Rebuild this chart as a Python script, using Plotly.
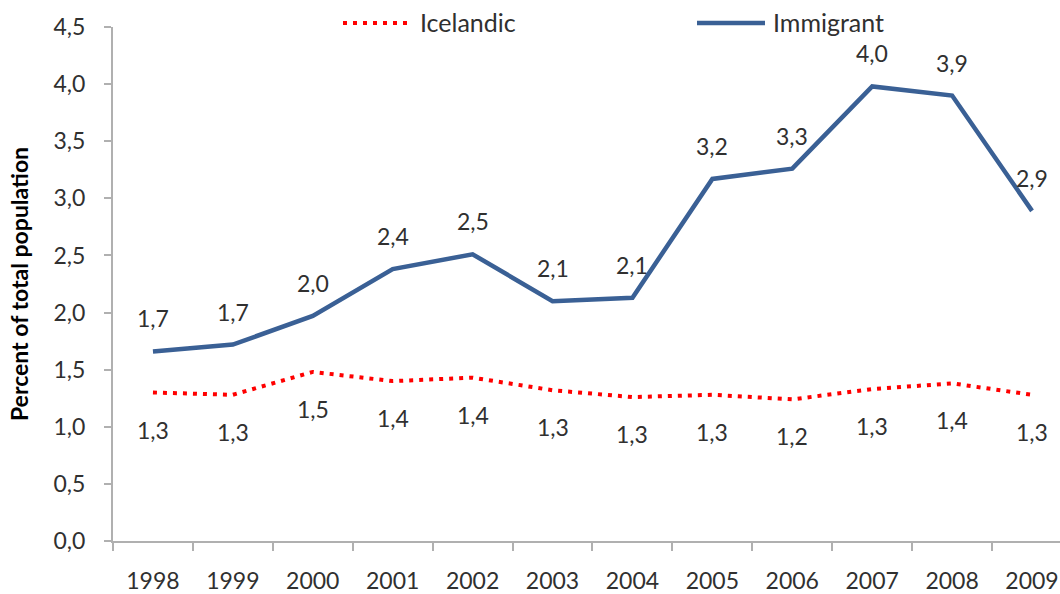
import plotly.graph_objects as go

years = ["1998", "1999", "2000", "2001", "2002", "2003", "2004", "2005", "2006", "2007", "2008", "2009"]
immigrant = [1.66, 1.72, 1.97, 2.38, 2.51, 2.10, 2.13, 3.17, 3.26, 3.98, 3.90, 2.89]
icelandic = [1.30, 1.28, 1.48, 1.40, 1.43, 1.32, 1.26, 1.28, 1.24, 1.33, 1.38, 1.28]
immigrant_labels = ["1,7", "1,7", "2,0", "2,4", "2,5", "2,1", "2,1", "3,2", "3,3", "4,0", "3,9", "2,9"]
icelandic_labels = ["1,3", "1,3", "1,5", "1,4", "1,4", "1,3", "1,3", "1,3", "1,2", "1,3", "1,4", "1,3"]
y_ticks = [0, 0.5, 1.0, 1.5, 2.0, 2.5, 3.0, 3.5, 4.0, 4.5]

BLUE = "#3A6095"
RED = "#FF0000"
TXT = "#303030"
AXC = "#B0B0B0"
FONT = "Lato, 'Open Sans', sans-serif"

fig = go.Figure()
fig.add_trace(go.Scatter(x=years, y=icelandic, mode="lines", name="Icelandic",
                         line=dict(color=RED, width=4, dash="4px,6px"), showlegend=False))
fig.add_trace(go.Scatter(x=years, y=immigrant, mode="lines", name="Immigrant",
                         line=dict(color=BLUE, width=4.5), showlegend=False))

for i, (y, t) in enumerate(zip(immigrant, immigrant_labels)):
    fig.add_annotation(x=i, y=y, xref="x", yref="y", text=t, showarrow=False, yshift=33,
                       font=dict(family=FONT, size=23, color=TXT))
for i, (y, t) in enumerate(zip(icelandic, icelandic_labels)):
    fig.add_annotation(x=i, y=y, xref="x", yref="y", text=t, showarrow=False, yshift=-37,
                       font=dict(family=FONT, size=23, color=TXT))

# custom legend (pixel helpers)
L, W, T, H = 113, 947, 27, 514
def px(xp):
    return (xp - L) / W
def py(yp):
    return (T + H - yp) / H
fig.add_shape(type="line", xref="paper", yref="paper", x0=px(343), x1=px(409), y0=py(23), y1=py(23),
              line=dict(color=RED, width=4, dash="4px,6px"))
fig.add_annotation(xref="paper", yref="paper", x=px(418), y=py(22), text="Icelandic", showarrow=False,
                   xanchor="left", yanchor="middle", font=dict(family=FONT, size=25, color=TXT))
fig.add_shape(type="line", xref="paper", yref="paper", x0=px(697), x1=px(765), y0=py(23), y1=py(23),
              line=dict(color=BLUE, width=4.5))
fig.add_annotation(xref="paper", yref="paper", x=px(771), y=py(22), text="Immigrant", showarrow=False,
                   xanchor="left", yanchor="middle", font=dict(family=FONT, size=25, color=TXT))

fig.update_layout(
    width=1060, height=594,
    margin=dict(l=113, r=0, t=27, b=53),
    plot_bgcolor="white", paper_bgcolor="white",
    separators=",.",
    font=dict(family=FONT, size=23, color=TXT),
)
fig.update_xaxes(type="category", range=[-0.5, 11.35], showline=True, linecolor=AXC, linewidth=2,
                 ticks="outside", tickson="boundaries", ticklen=8, tickcolor=AXC, tickwidth=2,
                 showgrid=False, zeroline=False, ticklabelstandoff=18,
                 tickfont=dict(family=FONT, size=23, color=TXT))
fig.update_yaxes(range=[0, 4.5], tickvals=y_ticks, tickformat=".1f", showline=True, linecolor=AXC,
                 linewidth=2, ticks="outside", ticklen=7, tickcolor=AXC, tickwidth=2,
                 showgrid=False, zeroline=False, ticklabelstandoff=14,
                 tickfont=dict(family=FONT, size=23, color=TXT),
                 title=dict(text="<b>Percent of total population</b>", standoff=18,
                            font=dict(family=FONT, size=23, color="#000000")))

fig.write_html("out.html", config={"displayModeBar": False},
               post_script="document.body.style.margin='0';document.body.style.overflow='hidden';")
